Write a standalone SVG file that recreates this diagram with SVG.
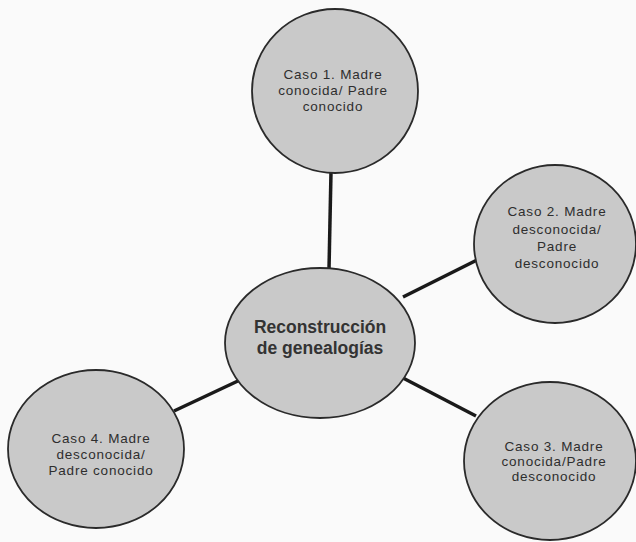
<svg xmlns="http://www.w3.org/2000/svg" width="636" height="542" viewBox="0 0 636 542">
<style>
.node{fill:#c9c9c9;stroke:#2a2a2a;stroke-width:1.8}
.lbl{font-family:"Liberation Sans",Arial,sans-serif;font-size:13.5px;letter-spacing:0.8px;fill:#2e2e2e;text-anchor:middle}
.main{font-family:"Liberation Sans",Arial,sans-serif;font-size:17.5px;font-weight:bold;fill:#333;text-anchor:middle}
.edge{stroke:#1a1a1a;stroke-width:3.5;fill:none}
</style>
<rect width="636" height="542" fill="#fafafa"/>
<g id="connectors">
<line class="edge" x1="331" y1="172" x2="329" y2="269"/>
<line class="edge" x1="403" y1="297" x2="477" y2="260"/>
<line class="edge" x1="174" y1="411" x2="240" y2="380"/>
<line class="edge" x1="403" y1="378" x2="476" y2="416"/>
</g>
<g id="center">
<ellipse class="node" cx="320" cy="343" rx="95" ry="75"/>
<text class="main" x="320" y="333">Reconstrucción</text>
<text class="main" x="320" y="354">de genealogías</text>
</g>
<g id="caso1">
<ellipse class="node" cx="335" cy="91" rx="83" ry="82"/>
<text class="lbl" x="333" y="79">Caso 1. Madre</text>
<text class="lbl" x="333" y="95">conocida/ Padre</text>
<text class="lbl" x="333" y="111">conocido</text>
</g>
<g id="caso2">
<ellipse class="node" cx="555" cy="244" rx="81" ry="79"/>
<text class="lbl" x="557" y="216">Caso 2. Madre</text>
<text class="lbl" x="557" y="234">desconocida/</text>
<text class="lbl" x="557" y="251">Padre</text>
<text class="lbl" x="557" y="268">desconocido</text>
</g>
<g id="caso3">
<ellipse class="node" cx="550" cy="461" rx="86" ry="79"/>
<text class="lbl" x="554" y="451">Caso 3. Madre</text>
<text class="lbl" x="554" y="466">conocida/Padre</text>
<text class="lbl" x="554" y="481">desconocido</text>
</g>
<g id="caso4">
<ellipse class="node" cx="96" cy="449" rx="88" ry="79"/>
<text class="lbl" x="101" y="443">Caso 4. Madre</text>
<text class="lbl" x="101" y="459">desconocida/</text>
<text class="lbl" x="101" y="475">Padre conocido</text>
</g>
</svg>
